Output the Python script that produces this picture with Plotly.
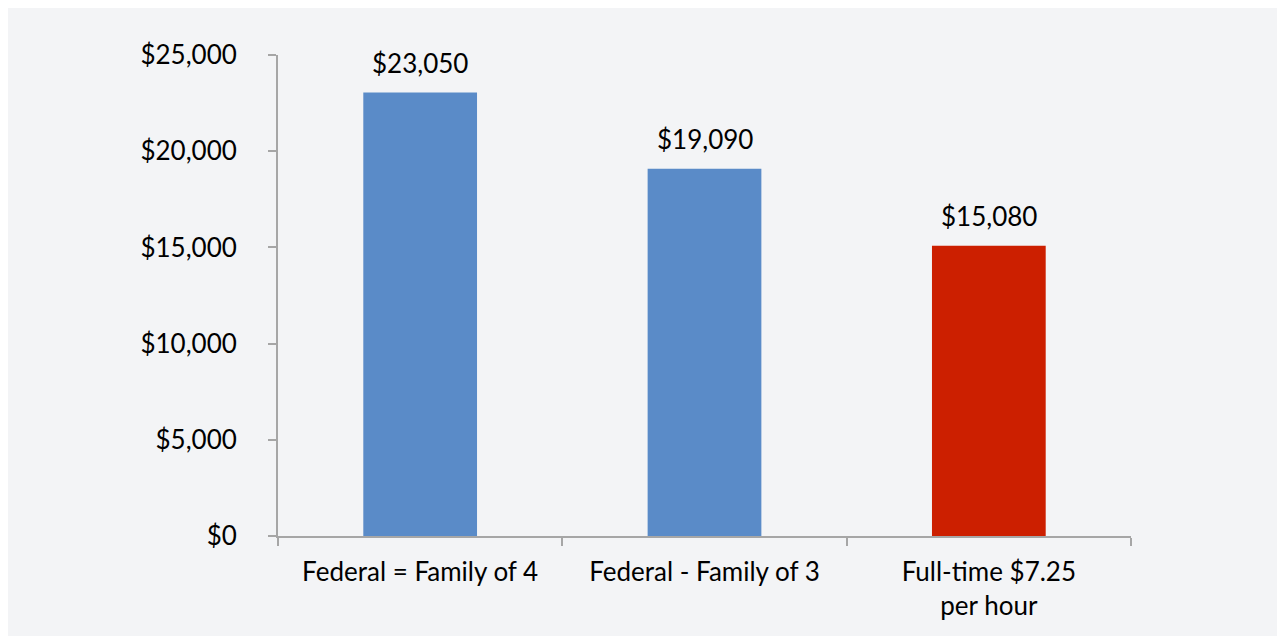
import plotly.graph_objects as go

categories = ["Federal = Family of 4", "Federal - Family of 3", "Full-time $7.25<br>per hour"]
values = [23050, 19090, 15080]
bar_colors = ["#5A8BC8", "#5A8BC8", "#CC1F00"]
tick_vals = [0, 5000, 10000, 15000, 20000, 25000]
tick_text = ["$0", "$5,000", "$10,000", "$15,000", "$20,000", "$25,000"]

FONT = "Lato"
FS = 26
BG = "#F3F4F6"
AX = "#A6A6A6"

fig = go.Figure()
fig.add_trace(go.Bar(
    x=categories, y=values,
    marker=dict(color=bar_colors, line=dict(width=0)),
    hoverinfo="skip",
))

for c, v in zip(categories, values):
    fig.add_annotation(
        x=c, y=v, xref="x", yref="y",
        text="${:,}".format(v), showarrow=False,
        yanchor="middle", yshift=30,
        font=dict(family=FONT, size=FS, color="#000000"),
    )

fig.update_layout(
    width=1277, height=628,
    margin=dict(l=270, r=154, t=47, b=100),
    paper_bgcolor=BG,
    plot_bgcolor=BG,
    bargap=0.6,
    showlegend=False,
    font=dict(family=FONT, size=FS, color="#000000"),
    xaxis=dict(
        type="category", range=[-0.5, 2.5],
        showline=True, linecolor=AX, linewidth=2,
        ticks="outside", tickson="boundaries", ticklen=8, tickcolor=AX, tickwidth=2,
        showgrid=False, zeroline=False,
        tickfont=dict(family=FONT, size=FS, color="#000000"),
        ticklabelstandoff=12,
    ),
    yaxis=dict(
        range=[0, 25000],
        tickvals=tick_vals, ticktext=tick_text,
        showline=True, linecolor=AX, linewidth=2,
        ticks="outside", ticklen=8, tickcolor=AX, tickwidth=2,
        showgrid=False, zeroline=False,
        tickfont=dict(family=FONT, size=FS, color="#000000"),
        ticklabelstandoff=26,
    ),
)

fig.write_html("out.html")
